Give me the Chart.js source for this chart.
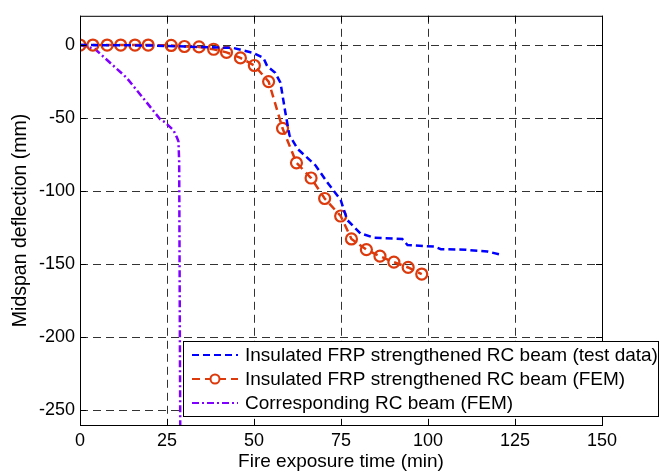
<!DOCTYPE html>
<html>
<head>
<meta charset="utf-8">
<script src="https://cdn.jsdelivr.net/npm/chart.js@4"></script>
<style>
  html, body { margin: 0; padding: 0; background: #fff; }
  #wrap { width: 660px; height: 472px; }
</style>
</head>
<body>
<div id="wrap"><canvas id="deflChart" width="660" height="472"></canvas></div>
<script>
// test data (blue dashed)
const testTime = [0, 20, 44, 49.8, 52.7, 53.8, 56.1, 57.6, 59, 60.2, 62.5, 67.7, 71, 74.9, 76.8, 80.6, 84.5, 92.6, 94.1, 101.7, 103.7, 110.9, 117.1, 120.9];
const testDefl = [0, -0.3, -2, -5.4, -8.8, -14.5, -19, -25.8, -46, -61.8, -71, -82.4, -93.8, -106, -119.8, -128.9, -131.8, -132.7, -136.8, -137.9, -139.7, -140.1, -141.3, -143.5];

// FEM, strengthened beam (red circles)
const femTime = [0, 3.7, 7.8, 11.7, 15.8, 19.6, 26.2, 30, 34.2, 38.4, 42.1, 46.1, 50.1, 54.2, 58.2, 62.2, 66.4, 70.3, 74.9, 78, 82.3, 86.2, 90.2, 94.3, 98.2];
const femDefl = [0, 0, 0, 0, 0, 0, -0.3, -1, -1.3, -2.9, -5, -8.8, -14, -25, -57, -80.6, -91, -105, -117, -132.7, -140, -144.5, -148.6, -152.2, -156.7];

// FEM, corresponding RC beam (purple dash-dot)
const rcTime = [0, 4.3, 13.4, 19.2, 23, 24.5, 26.9, 27.8, 28.3, 28.5, 28.8];
const rcDefl = [0, -2.7, -22.4, -39.4, -50.7, -53, -58.5, -63, -66, -80, -260];

const xTicks = [0, 25, 50, 75, 100, 125, 150];
const yTicks = [0, -50, -100, -150, -200, -250];

const toXY = (xs, ys) => xs.map((x, i) => ({ x: x, y: ys[i] }));

const FONT = 'Liberation Sans, Arial, sans-serif';

// MATLAB style box + inward ticks + legend inside the axes
const boxPlugin = {
  id: 'matlabBox',
  afterDraw(chart) {
    const { ctx, chartArea: a, scales } = chart;
    ctx.save();
    ctx.strokeStyle = '#000';
    ctx.lineWidth = 1;
    ctx.setLineDash([]);
    ctx.strokeRect(a.left + 0.5, a.top + 0.5, a.right - a.left, a.bottom - a.top);
    ctx.beginPath();
    xTicks.forEach(v => {
      const px = Math.round(scales.x.getPixelForValue(v)) + 0.5;
      ctx.moveTo(px, a.bottom); ctx.lineTo(px, a.bottom - 6);
      ctx.moveTo(px, a.top); ctx.lineTo(px, a.top + 6);
    });
    yTicks.forEach(v => {
      const py = Math.round(scales.y.getPixelForValue(v)) + 0.5;
      ctx.moveTo(a.left, py); ctx.lineTo(a.left + 6, py);
      ctx.moveTo(a.right, py); ctx.lineTo(a.right - 6, py);
    });
    ctx.stroke();

    // legend
    const lx = 183, ly = 341, lw = 475, lh = 75;
    ctx.fillStyle = '#fff';
    ctx.fillRect(lx, ly, lw, lh);
    ctx.strokeRect(lx + 0.5, ly + 0.5, lw, lh);
    ctx.font = '19px ' + FONT;
    ctx.textBaseline = 'middle';
    chart.data.datasets.forEach((ds, i) => {
      const y = ly + 14 + i * 24;
      ctx.strokeStyle = ds.borderColor;
      ctx.lineWidth = 2;
      ctx.setLineDash(ds.borderDash || []);
      ctx.beginPath();
      ctx.moveTo(192, y); ctx.lineTo(238, y);
      ctx.stroke();
      if (ds.pointRadius > 0) {
        ctx.setLineDash([]);
        ctx.beginPath();
        ctx.arc(215, y, 4.5, 0, Math.PI * 2);
        ctx.fillStyle = '#fff';
        ctx.fill();
        ctx.stroke();
      }
      ctx.fillStyle = '#000';
      ctx.fillText(ds.label, 245, y + 1);
    });
    ctx.restore();
  }
};

const gridStyle = {
  color: 'rgba(0,0,0,0.8)',
  lineWidth: 1,
  drawTicks: false
};

const config = {
  type: 'line',
  data: {
    datasets: [
      {
        label: 'Insulated FRP strengthened RC beam (test data)',
        data: toXY(testTime, testDefl),
        borderColor: '#0000ff',
        borderWidth: 2.5,
        borderDash: [7, 4],
        pointRadius: 0,
        fill: false,
        tension: 0
      },
      {
        label: 'Insulated FRP strengthened RC beam (FEM)',
        data: toXY(femTime, femDefl),
        borderColor: '#dc3a0c',
        borderWidth: 2.5,
        borderDash: [8, 5],
        pointRadius: 5.5,
        pointBorderWidth: 2.2,
        pointBackgroundColor: 'rgba(255,255,255,0)',
        pointBorderColor: '#dc3a0c',
        fill: false,
        tension: 0
      },
      {
        label: 'Corresponding RC beam (FEM)',
        data: toXY(rcTime, rcDefl),
        borderColor: '#8000ff',
        borderWidth: 2.5,
        borderDash: [7, 3, 2, 3],
        pointRadius: 0,
        fill: false,
        tension: 0
      }
    ]
  },
  options: {
    responsive: false,
    animation: false,
    layout: { padding: { top: 13, right: 58, left: 0, bottom: 0 } },
    plugins: {
      legend: { display: false },
      tooltip: { enabled: false }
    },
    scales: {
      x: {
        type: 'linear',
        min: 0,
        max: 150,
        afterBuildTicks: (s) => { s.ticks = xTicks.map(v => ({ value: v })); },
        afterFit: (s) => { s.height = 47; },
        grid: gridStyle,
        border: { display: false, dash: [8, 5] },
        ticks: { color: '#000', padding: 5, font: { family: FONT, size: 18 } },
        title: {
          display: true,
          text: 'Fire exposure time (min)',
          color: '#000',
          padding: { top: 0, bottom: -1 },
          font: { family: FONT, size: 19 }
        }
      },
      y: {
        type: 'linear',
        min: -260,
        max: 20,
        afterBuildTicks: (s) => { s.ticks = yTicks.map(v => ({ value: v })); },
        afterFit: (s) => { s.width = 80; },
        grid: gridStyle,
        border: { display: false, dash: [8, 5] },
        ticks: { color: '#000', padding: 5, font: { family: FONT, size: 18 } },
        title: {
          display: true,
          text: 'Midspan deflection (mm)',
          color: '#000',
          padding: { top: 9, bottom: 0 },
          font: { family: FONT, size: 19.5 }
        }
      }
    }
  },
  plugins: [boxPlugin]
};

const deflChart = new Chart(document.getElementById('deflChart').getContext('2d'), config);
</script>
</body>
</html>
